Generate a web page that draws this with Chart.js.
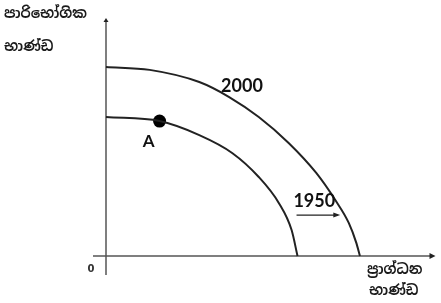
<!DOCTYPE html>
<html>
<head>
<meta charset="utf-8">
<script src="https://cdn.jsdelivr.net/npm/chart.js@4/dist/chart.umd.min.js"></script>
<style>
html,body{margin:0;padding:0;background:#fff;}
#wrap{width:441px;height:303px;position:relative;}
</style>
</head>
<body>
<div id="wrap"><canvas id="c" width="441" height="303"></canvas></div>
<script>
// Production possibility curves (capital goods on x, consumer goods on y), units 0-100
const seriesLabels = ["2000", "1950"];
const curve2000X = [0, 13.3, 28.4, 37.5, 46.5, 55.6, 64.0, 69.8, 73.9, 76.2, 77.3];
const curve2000Y = [79.4, 78.2, 73.1, 66.8, 58.4, 47.5, 34.9, 23.5, 13.9, 5.5, 0];
const curve1950X = [0, 16.3, 28.4, 38.4, 46.5, 52.6, 56.5, 58.3];
const curve1950Y = [58.4, 56.7, 50.8, 43.3, 33.2, 22.3, 10.9, 0];
const pointA = {label: "A", x: 16.3, y: 56.7};
const yAxisTitle = ["පාරිභෝගික", "භාණ්ඩ"];
const xAxisTitle = ["ප්‍රාග්ධන", "භාණ්ඩ"];
const originLabel = "0";

const toPts = (xs, ys) => xs.map((x, i) => ({x, y: ys[i]}));

const sinhalaFont = '"Noto Sans Sinhala","Iskoola Pota","Noto Sans","DejaVu Sans",sans-serif';

const decor = {
  id: 'decor',
  beforeDatasetsDraw(chart) {
    const ctx = chart.ctx;
    const xs = chart.scales.x, ys = chart.scales.y;
    const x0 = xs.getPixelForValue(0), y0 = ys.getPixelForValue(0);
    const xEnd = xs.getPixelForValue(100), yTop = ys.getPixelForValue(100);
    ctx.save();
    ctx.strokeStyle = '#555';
    ctx.fillStyle = '#222';
    ctx.lineWidth = 1.5;
    ctx.beginPath();
    ctx.moveTo(x0, y0 + 19);
    ctx.lineTo(x0, yTop + 3);
    ctx.stroke();
    ctx.beginPath();
    ctx.moveTo(x0, yTop);
    ctx.lineTo(x0 - 2.5, yTop + 4);
    ctx.lineTo(x0 + 2.5, yTop + 4);
    ctx.closePath();
    ctx.fill();
    ctx.beginPath();
    ctx.moveTo(x0 - 13, y0);
    ctx.lineTo(xEnd - 3, y0);
    ctx.stroke();
    ctx.beginPath();
    ctx.moveTo(xEnd + 1, y0);
    ctx.lineTo(xEnd - 5, y0 - 3);
    ctx.lineTo(xEnd - 5, y0 + 3);
    ctx.closePath();
    ctx.fill();
    ctx.restore();
  },
  afterDatasetsDraw(chart) {
    const ctx = chart.ctx;
    const xs = chart.scales.x, ys = chart.scales.y;
    const px = v => xs.getPixelForValue(v), py = v => ys.getPixelForValue(v);
    ctx.save();
    ctx.fillStyle = '#1a1a1a';
    ctx.textBaseline = 'middle';
    ctx.font = 'bold 14px ' + sinhalaFont;
    ctx.textAlign = 'left';
    ctx.fillText(yAxisTitle[0], 4, 14);
    ctx.fillText(yAxisTitle[1], 4, 47);
    ctx.fillText(xAxisTitle[0], 367, 270);
    ctx.fillText(xAxisTitle[1], 369, 291);
    ctx.font = 'bold 10px "DejaVu Sans",sans-serif';
    ctx.textAlign = 'center';
    ctx.fillStyle = '#333';
    ctx.fillText(originLabel, px(0) - 15, py(0) + 13);
    ctx.fillStyle = '#111';
    ctx.font = 'bold 18px Lato,"Open Sans",sans-serif';
    ctx.fillText(seriesLabels[0], px(41.4), py(71.4));
    ctx.fillText(seriesLabels[1], px(63.4), py(23.1));
    ctx.strokeStyle = '#222';
    ctx.lineWidth = 1.2;
    ctx.beginPath();
    ctx.moveTo(px(58.0), py(17.2));
    ctx.lineTo(px(70.5), py(17.2));
    ctx.stroke();
    ctx.beginPath();
    ctx.moveTo(px(71.3), py(17.2));
    ctx.lineTo(px(69.2), py(17.2) - 2.5);
    ctx.lineTo(px(69.2), py(17.2) + 2.5);
    ctx.closePath();
    ctx.fillStyle = '#222';
    ctx.fill();
    ctx.fillStyle = '#111';
    ctx.font = 'bold 17px Lato,"Open Sans",sans-serif';
    ctx.fillText(pointA.label, px(pointA.x) - 11, py(pointA.y) + 20);
    ctx.restore();
  }
};

new Chart(document.getElementById('c'), {
  type: 'scatter',
  data: {
    datasets: [
      {label: seriesLabels[0], data: toPts(curve2000X, curve2000Y), showLine: true,
       borderColor: '#222', borderWidth: 2, pointRadius: 0, cubicInterpolationMode: 'monotone', fill: false},
      {label: seriesLabels[1], data: toPts(curve1950X, curve1950Y), showLine: true,
       borderColor: '#222', borderWidth: 2, pointRadius: 0, cubicInterpolationMode: 'monotone', fill: false},
      {label: pointA.label, data: [{x: pointA.x, y: pointA.y}], showLine: false,
       pointRadius: 6.5, backgroundColor: '#000', borderColor: '#000', borderWidth: 0}
    ]
  },
  options: {
    responsive: false,
    animation: false,
    layout: {padding: {left: 106, right: 4, top: 18, bottom: 47}},
    scales: {
      x: {type: 'linear', min: 0, max: 100, display: false},
      y: {type: 'linear', min: 0, max: 100, display: false}
    },
    plugins: {legend: {display: false}, tooltip: {enabled: false}},
    clip: false
  },
  plugins: [decor]
});
</script>
</body>
</html>
